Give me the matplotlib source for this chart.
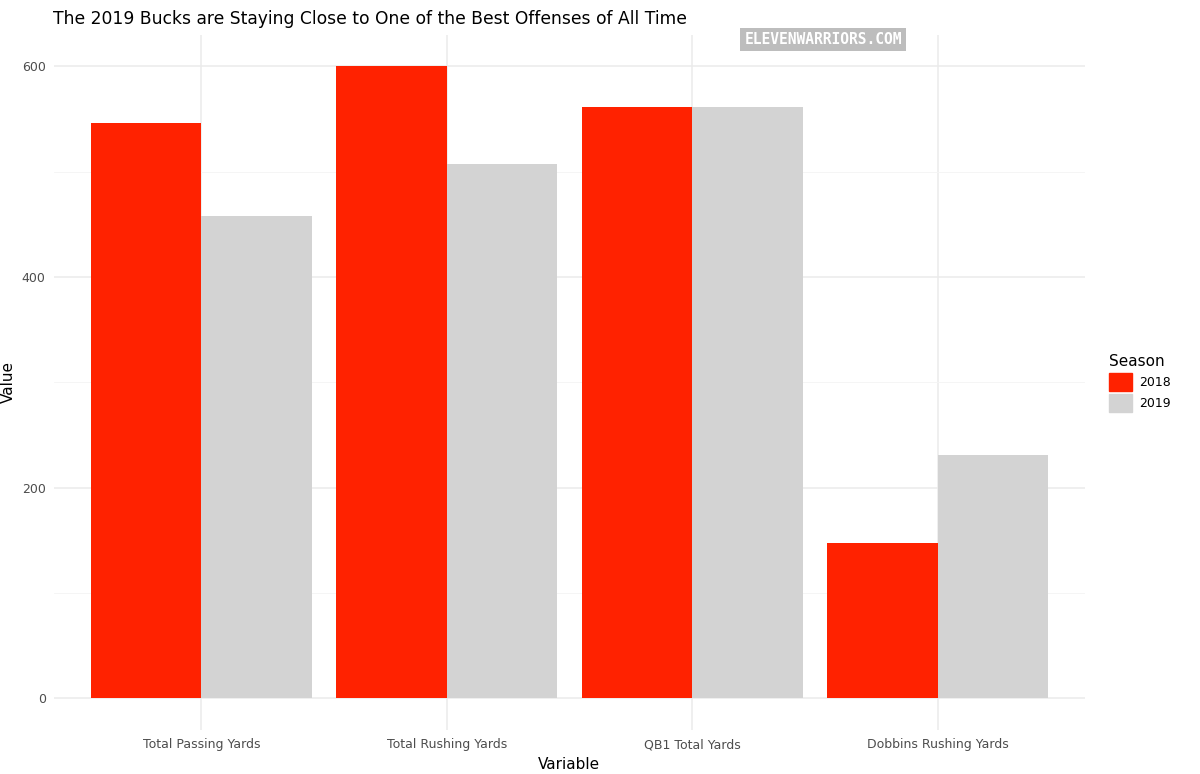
import numpy as np
import matplotlib.pyplot as plt
from matplotlib.patches import Patch

variables = ['Total Passing Yards', 'Total Rushing Yards', 'QB1 Total Yards', 'Dobbins Rushing Yards']
seasons = ['2018', '2019']
vals_2018 = [546, 600, 561, 147]
vals_2019 = [458, 507, 561, 231]
colors = ['#FF2200', '#D3D3D3']

fig = plt.figure(figsize=(12, 7.74), dpi=100)
ax = fig.add_axes([0.045, 0.057, 0.859, 0.898])

x = np.arange(1, len(variables) + 1)
w = 0.45
ax.bar(x - w / 2, vals_2018, width=w, color=colors[0], zorder=3)
ax.bar(x + w / 2, vals_2019, width=w, color=colors[1], zorder=3)

ax.set_xlim(0.4, 4.6)
ax.set_ylim(-30, 630)
ax.set_yticks([0, 200, 400, 600])
ax.set_yticks([100, 300, 500], minor=True)
ax.set_xticks(x)
ax.set_xticklabels(variables)
ax.grid(which='major', color='#EBEBEB', lw=1.1, zorder=0)
ax.grid(which='minor', axis='y', color='#F4F4F4', lw=0.6, zorder=0)
ax.tick_params(which='both', length=0, labelsize=9, labelcolor='#4D4D4D', pad=6)
for s in ax.spines.values():
    s.set_visible(False)
ax.set_xlabel('Variable', fontsize=11, labelpad=4)
ax.set_ylabel('Value', fontsize=11, labelpad=4)

fig.text(0.044, 0.975, 'The 2019 Bucks are Staying Close to One of the Best Offenses of All Time',
         fontsize=12.3, va='center', ha='left')
fig.text(0.686, 0.949, 'ELEVENWARRIORS.COM', fontsize=10.5, fontweight='bold', color='white',
         ha='center', va='center', family='DejaVu Sans Mono',
         bbox=dict(boxstyle='square,pad=0.3', fc='#BDBDBD', ec='none'))

handles = [Patch(color=c, label=s) for c, s in zip(colors, seasons)]
leg = fig.legend(handles=handles, title='Season', loc='center left', bbox_to_anchor=(0.915, 0.505),
                 frameon=False, fontsize=9, title_fontsize=11, handlelength=1.8, handleheight=1.8,
                 handletextpad=0.6, labelspacing=0.3)
leg._legend_box.align = 'left'

fig.savefig('out.png', dpi=100)
